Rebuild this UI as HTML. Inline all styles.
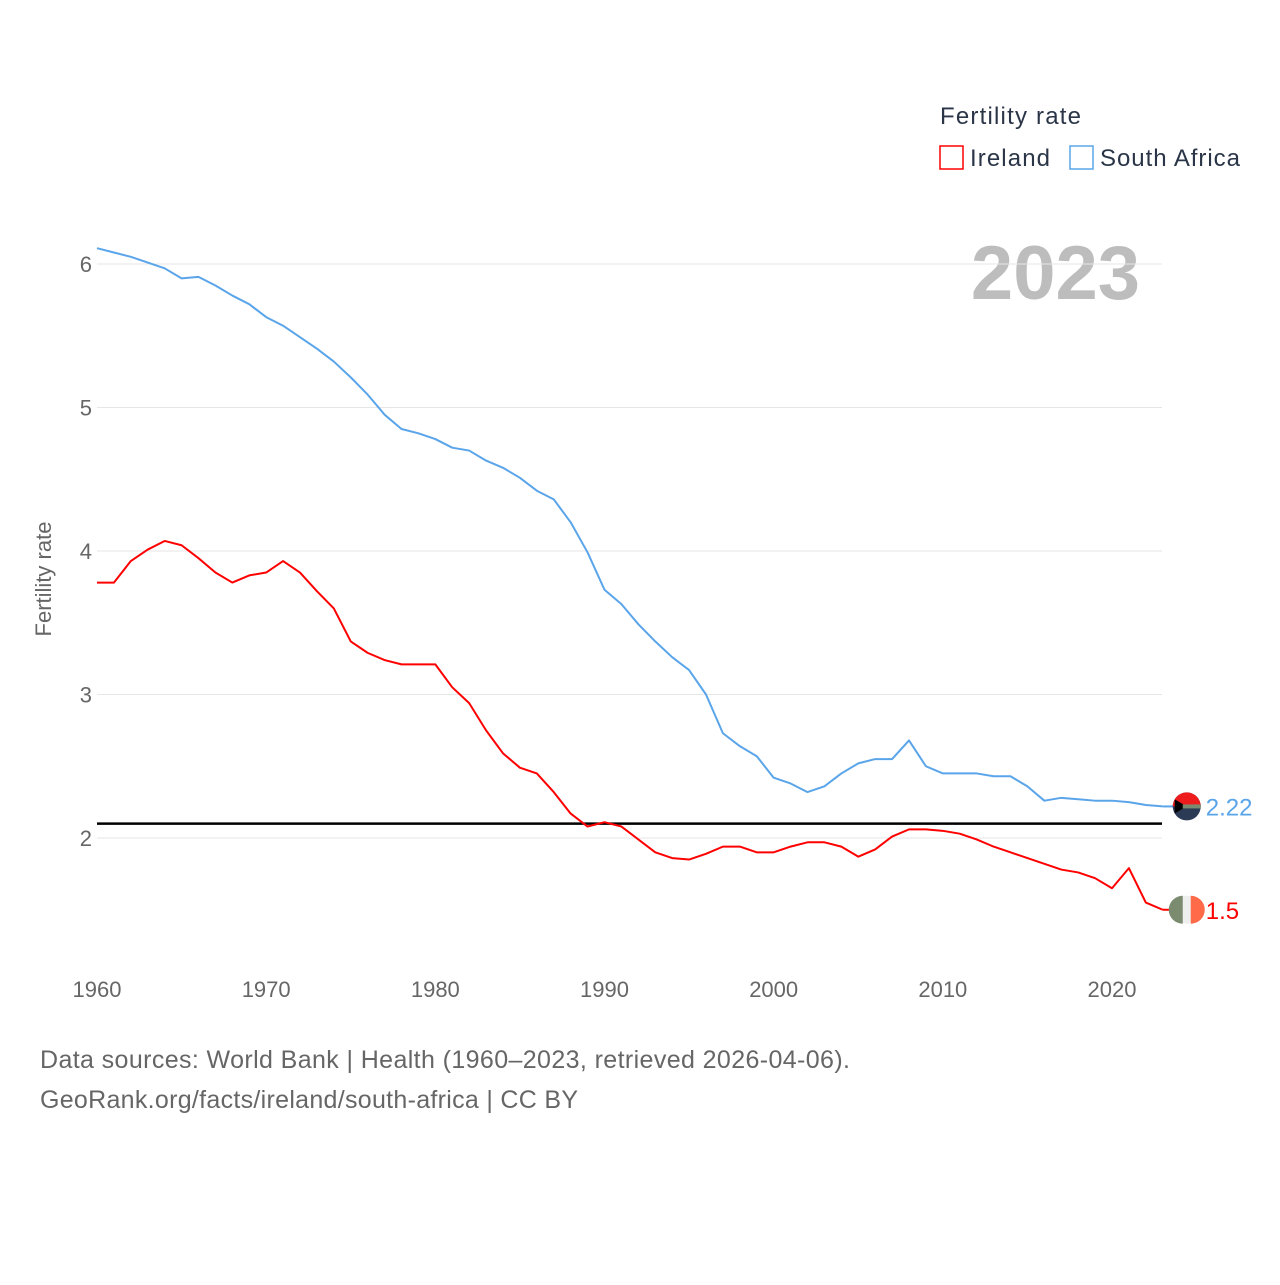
<!DOCTYPE html>
<html><head><meta charset="utf-8">
<style>
body{margin:0;background:#fff;}
svg text{font-family:"Liberation Sans",sans-serif;}
</style></head>
<body>
<svg id="chart" width="1280" height="1280" viewBox="0 0 1280 1280">
<text x="940" y="124" font-size="24" fill="#2a3547" textLength="141">Fertility rate</text>
<rect x="940" y="146" width="23" height="23" fill="none" stroke="#ff0000" stroke-width="1.5"/>
<text x="970" y="166" font-size="24" fill="#2a3547" textLength="80">Ireland</text>
<rect x="1070" y="146" width="23" height="23" fill="none" stroke="#5aa5ea" stroke-width="1.5"/>
<text x="1100" y="166" font-size="24" fill="#2a3547" textLength="140">South Africa</text>
<text x="1140" y="299" font-size="76" font-weight="bold" fill="#bdbdbd" text-anchor="end">2023</text>
<text transform="translate(51,579) rotate(-90)" font-size="22" fill="#666" text-anchor="middle">Fertility rate</text>
<g id="grid"></g><g id="marks"></g>
<text x="40" y="1068" font-size="25" fill="#666" textLength="810">Data sources: World Bank | Health (1960–2023, retrieved 2026-04-06).</text>
<text x="40" y="1108" font-size="25" fill="#666" textLength="538">GeoRank.org/facts/ireland/south-africa | CC BY</text>
</svg>
<script>
const years=[];for(let y=1960;y<=2023;y++)years.push(y);
const southAfrica=[6.11,6.08,6.05,6.01,5.97,5.90,5.91,5.85,5.78,5.72,5.63,5.57,5.49,5.41,5.32,5.21,5.09,4.95,4.85,4.82,4.78,4.72,4.70,4.63,4.58,4.51,4.42,4.36,4.20,3.99,3.73,3.63,3.49,3.37,3.26,3.17,3.00,2.73,2.64,2.57,2.42,2.38,2.32,2.36,2.45,2.52,2.55,2.55,2.68,2.50,2.45,2.45,2.45,2.43,2.43,2.36,2.26,2.28,2.27,2.26,2.26,2.25,2.23,2.22];
const ireland=[3.78,3.78,3.93,4.01,4.07,4.04,3.95,3.85,3.78,3.83,3.85,3.93,3.85,3.72,3.60,3.37,3.29,3.24,3.21,3.21,3.21,3.05,2.94,2.75,2.59,2.49,2.45,2.32,2.17,2.08,2.11,2.08,1.99,1.90,1.86,1.85,1.89,1.94,1.94,1.90,1.90,1.94,1.97,1.97,1.94,1.87,1.92,2.01,2.06,2.06,2.05,2.03,1.99,1.94,1.90,1.86,1.82,1.78,1.76,1.72,1.65,1.79,1.55,1.50];
const yTicks=[2,3,4,5,6];
const xTicks=[1960,1970,1980,1990,2000,2010,2020];
const replacementRate=2.1;
const X=v=>97+(v-1960)*(1015/60);
const Y=v=>264+(6-v)*143.5;
const NS='http://www.w3.org/2000/svg';
const grid=document.getElementById('grid'),marks=document.getElementById('marks');
function mk(tag,attrs,parent,txt){const e=document.createElementNS(NS,tag);for(const k in attrs)e.setAttribute(k,attrs[k]);if(txt!==undefined)e.textContent=txt;parent.appendChild(e);return e;}
yTicks.forEach(t=>{
 const l=mk('line',{x1:97,x2:1162,y1:Y(t),y2:Y(t),stroke:'#e6e6e6','stroke-width':1},grid);
 
 
 const tx=mk('text',{x:92,y:Y(t)+8,'font-size':22,fill:'#666','text-anchor':'end'},grid,String(t));
 
 
});
xTicks.forEach(t=>{
 const tx=mk('text',{x:X(t),y:997,'font-size':22,fill:'#666','text-anchor':'middle'},grid,String(t));
 
 
});
const rl=mk('line',{x1:97,x2:1162,y1:Y(replacementRate),y2:Y(replacementRate),stroke:'#000','stroke-width':2.5},marks);


function series(vals,color,name){
 const p=mk('polyline',{points:vals.map((v,i)=>X(years[i])+','+Y(v)).join(' '),fill:'none',stroke:color,'stroke-width':2,'stroke-linejoin':'round'},marks);
 
 
 const last=vals[vals.length-1];
 const cx=X(years[years.length-1])+24, cy=Y(last);
 mk('line',{x1:X(years[years.length-1]),x2:cx-13,y1:cy,y2:cy,stroke:color,'stroke-width':2},marks);
 const c=mk('circle',{cx:cx,cy:cy,r:14,fill:name==='ireland'?'#eeeeee':'#2b3a55'},marks);
 
 
 if(name==='ireland'){
  mk('path',{d:`M${cx-4},${cy-14} A14,14 0 0 0 ${cx-4},${cy+14} Z`,fill:'#7b8b6f'},marks);
  mk('path',{d:`M${cx+4},${cy-14} A14,14 0 0 1 ${cx+4},${cy+14} Z`,fill:'#ff6a48'},marks);
 }else{
  mk('path',{d:`M${cx-14},${cy} A14,14 0 0 1 ${cx+14},${cy} Z`,fill:'#ee1c1c'},marks);
  mk('path',{d:`M${cx-12},${cy-7} L${cx},${cy} L${cx-12},${cy+7} Z`,fill:'#000'},marks);
  mk('rect',{x:cx-4,y:cy-2,width:18,height:4,fill:'#7b8b6f'},marks);
 }
 const lb=mk('text',{x:cx+19,y:cy+9,'font-size':24,fill:color},marks,String(last));
 
 
}
series(southAfrica,'#5aa5ea','south-africa');
series(ireland,'#ff0000','ireland');
</script>
</body></html>
